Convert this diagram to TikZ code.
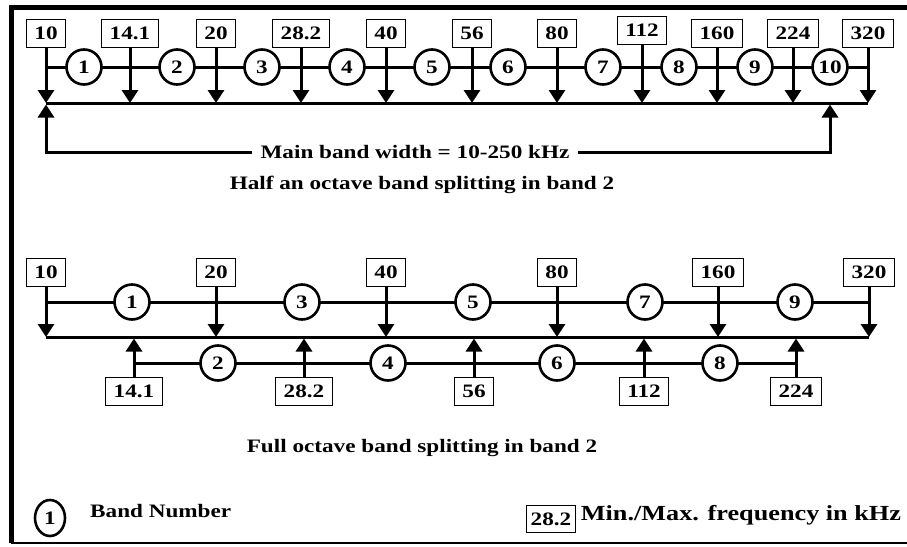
\documentclass[tikz,border=0pt]{standalone}
\usepackage{fontspec}
\setmainfont[FakeStretch=1.22]{Liberation Serif}
\usepackage{tikz}
\usetikzlibrary{shapes.geometric, arrows.meta, positioning, calc}
\tikzset{
  freq/.style={rectangle, draw=black, line width=0.8pt, fill=white,
               inner xsep=8pt, inner ysep=0pt, minimum height=28pt,
               font=\bfseries\fontsize{19}{21}\selectfont},
  band/.style={circle, draw=black, line width=2.6pt, fill=white,
               minimum size=35pt, inner sep=0pt,
               font=\bfseries\fontsize{19}{21}\selectfont},
  lbl/.style={inner sep=8pt, font=\bfseries\fontsize{19}{21}\selectfont},
  arr/.style={-{Triangle[length=13pt,width=16pt]}, line width=3pt},
  bar/.style={line width=3pt},
}

\begin{document}
\begin{tikzpicture}[x=1pt, y=-1pt]
  \useasboundingbox (0,0) rectangle (907,546);
  % frame
  \draw[line width=5pt] (907,7) -- (11,7) -- (11,543);
  \draw[line width=2.5pt] (11,543) -- (907,543);

  % half an octave splitting
  \coordinate (hline) at (0,67);
  \coordinate (hbus)  at (0,103);
  \foreach \x/\f/\y [count=\i] in {46/10/33, 130/14.1/33, 216/20/33, 301/28.2/33,
      386/40/33, 472/56/33, 557/80/33, 642/112/30, 717/160/33, 793/224/33, 868/320/33}
    \node[freq] (h\i) at (\x,\y) {\f};
  \draw[bar] (h1.south |- hline) -- (h11.south |- hline);
  \foreach \x [count=\i] in {84, 177, 262, 347, 432, 508, 603, 679, 755, 830}
    \node[band] (hb\i) at (\x,67) {\i};
  \foreach \i in {1,...,11}
    \draw[arr] (h\i.south) -- (h\i.south |- hbus);
  \draw[bar] (h1.south |- hbus) -- (h11.south |- hbus);
  \node[lbl] (mbw) at (415,152) {Main band width = 10-250 kHz};
  \draw[arr] (mbw.west) -| ($(h1.south |- hbus)+(0,1.5)$);
  \draw[arr] (mbw.east) -| ($(hb10.center |- hbus)+(0,1.5)$);
  \node[lbl] (hcap) at (422,185) {Half an octave band splitting in band 2};

  % full octave splitting
  \coordinate (fline) at (0,302);
  \coordinate (fbus)  at (0,337);
  \coordinate (gline) at (0,363);
  \foreach \x/\f [count=\i] in {46/10, 216/20, 386/40, 557/80, 718/160, 869/320}
    \node[freq] (o\i) at (\x,272) {\f};
  \foreach \x/\f [count=\i] in {134/14.1, 304/28.2, 474/56, 644/112, 796/224}
    \node[freq] (u\i) at (\x,391) {\f};
  \draw[bar] (o1.south |- fline) -- (o6.south |- fline);
  \draw[bar] (u1.north |- gline) -- (u5.north |- gline);
  \foreach \x/\n in {132/1, 302/3, 473/5, 645/7, 795/9}
    \node[band] (ob\n) at (\x,302) {\n};
  \foreach \x/\n in {218/2, 388/4, 557/6, 720/8}
    \node[band] (ub\n) at (\x,363) {\n};
  \foreach \i in {1,...,6}
    \draw[arr] (o\i.south) -- (o\i.south |- fbus);
  \foreach \i in {1,...,5}
    \draw[arr] (u\i.north) -- ($(u\i.north |- fbus)+(0,1.5)$);
  \draw[bar] (o1.south |- fbus) -- (o6.south |- fbus);
  \node[lbl] (fcap) at (422,448) {Full octave band splitting in band 2};

  % legend
  \node[band, ellipse, minimum width=30pt, minimum height=36pt] (lgb) at (50,518) {1};
  \node[lbl, anchor=west] (lgbt) at (82,511) {Band Number};
  \node[freq, inner xsep=4pt, minimum height=27pt] (lgf) at (551,519) {28.2};
  \node[lbl, anchor=west, inner sep=5pt, font=\bfseries\fontsize{21.5}{23}\selectfont]
    (lgft) at ([yshift=4pt]lgf.east) {Min./Max. frequency in kHz};
\end{tikzpicture}
\end{document}
